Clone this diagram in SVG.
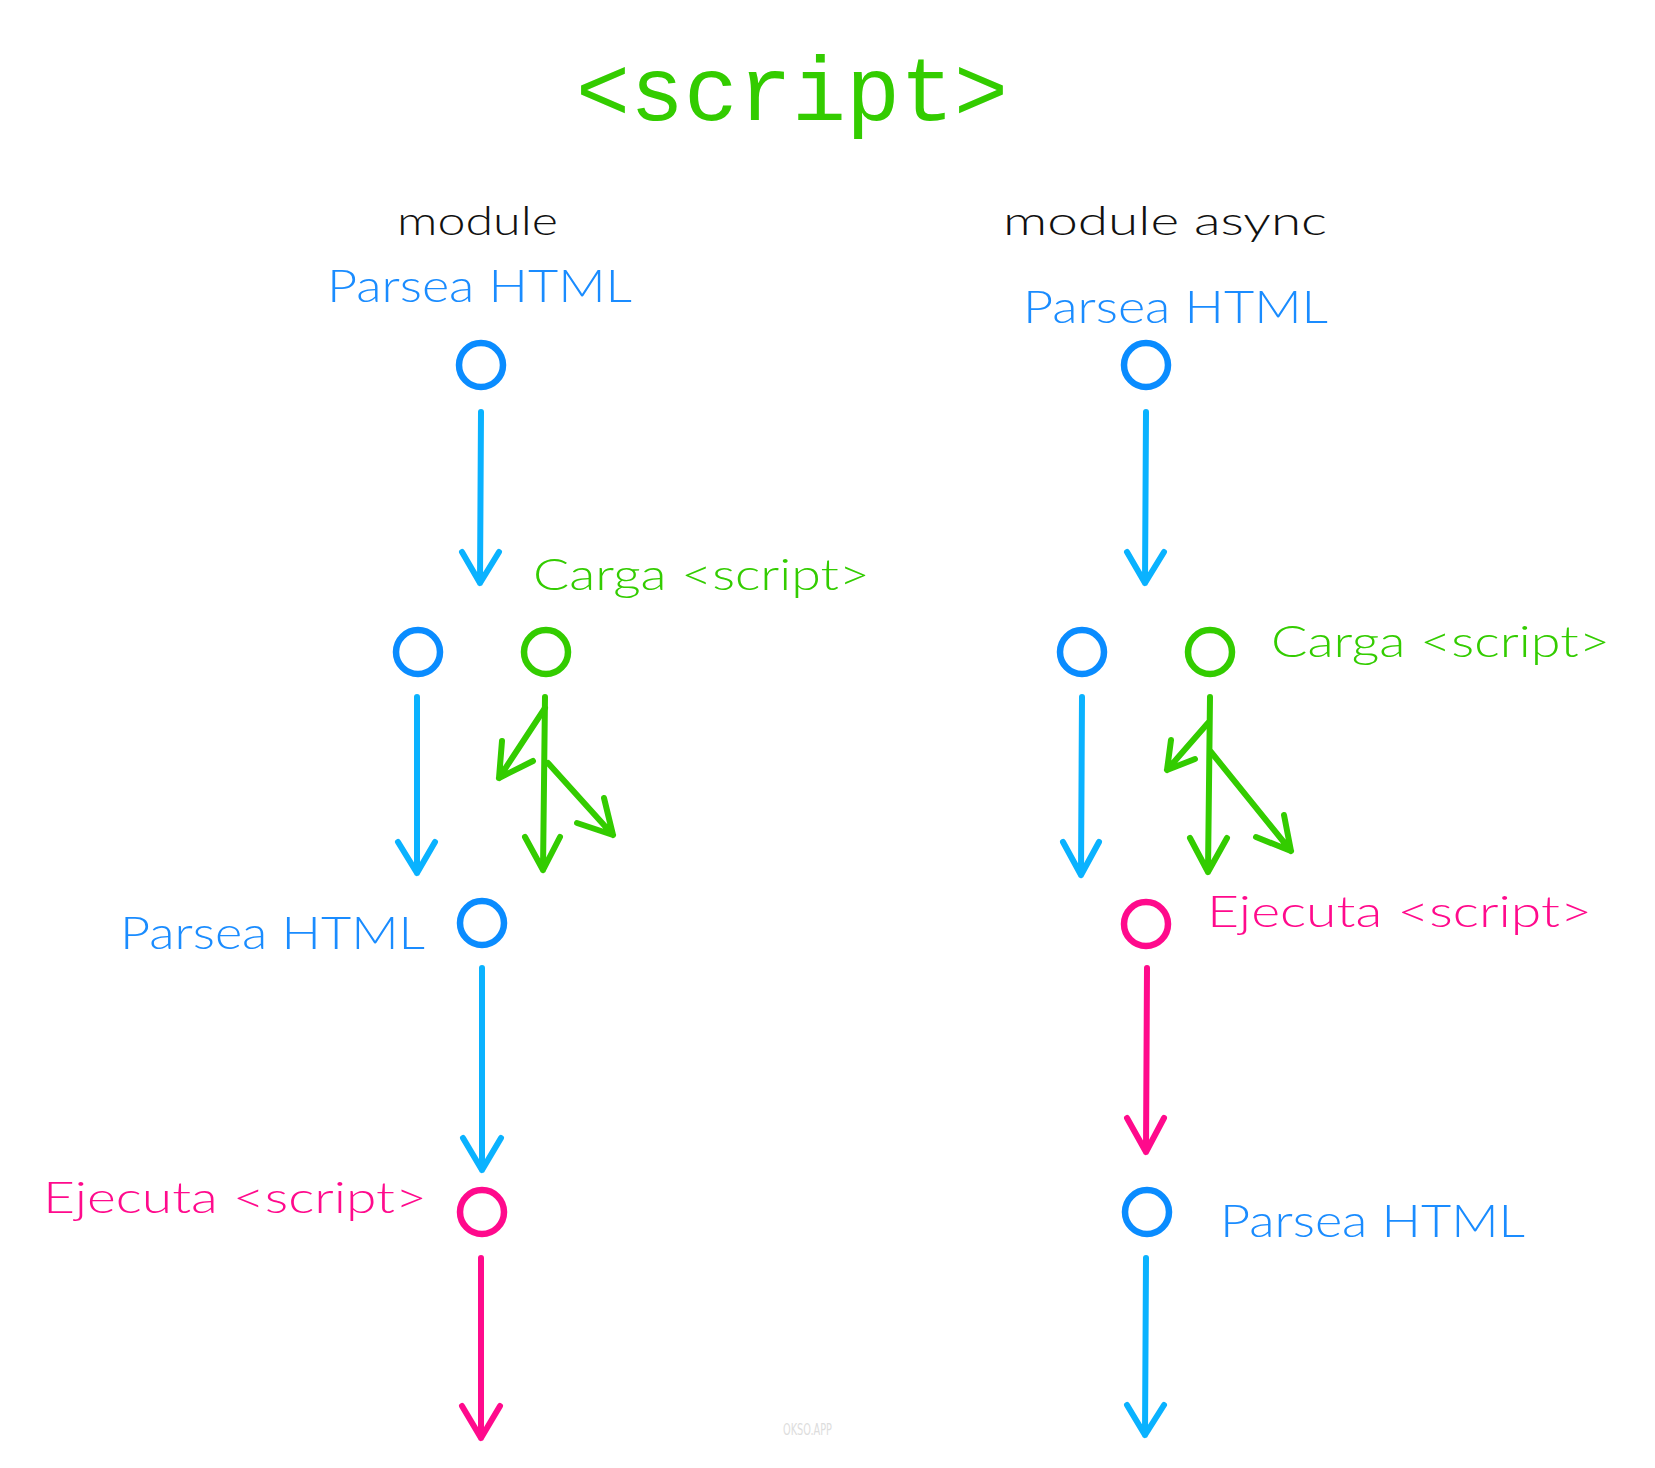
<svg xmlns="http://www.w3.org/2000/svg" width="1655" height="1468" viewBox="0 0 1655 1468">
<style>
.hand{font-family:Lato,"Open Sans","Liberation Sans",sans-serif;font-weight:300;}
.blueT{fill:#1a8cff;font-size:46px;}
.greenT{fill:#33cc00;font-size:43px;}
.pinkT{fill:#ff0a8c;font-size:43px;}
.blackT{fill:#111;font-size:40px;}
.c{fill:none;stroke-width:6.5;}
.cb{stroke:#0a8cff;}
.cg{stroke:#33cc00;}
.cp{stroke:#ff0a8c;}
.a{fill:none;stroke-width:6;stroke-linecap:round;stroke-linejoin:round;}
.ab{stroke:#0ab2ff;}
.ag{stroke:#33cc00;}
.ap{stroke:#ff0a8c;}
</style>
<rect width="1655" height="1468" fill="#ffffff"/>
<g id="title">
<text x="576" y="120" font-family="'Liberation Mono','DejaVu Sans Mono',monospace" font-size="90" fill="#33cc00">&lt;script&gt;</text>
</g>
<g id="header-module"><text class="hand blackT" x="397" y="235" textLength="161" lengthAdjust="spacingAndGlyphs">module</text></g>
<g id="header-module-async"><text class="hand blackT" x="1003" y="235" textLength="324" lengthAdjust="spacingAndGlyphs">module async</text></g>

<g id="L-parse1">
<text class="hand blueT" x="327" y="302" textLength="305" lengthAdjust="spacingAndGlyphs">Parsea HTML</text>
<circle class="c cb" cx="481" cy="365" r="22"/>
</g>
<g id="L-parse2"><circle class="c cb" cx="418" cy="652" r="22"/></g>
<g id="L-load">
<text class="hand greenT" x="533" y="590" textLength="337" lengthAdjust="spacingAndGlyphs">Carga &lt;script&gt;</text>
<circle class="c cg" cx="546" cy="652" r="22"/>
</g>
<g id="L-parse3">
<text class="hand blueT" x="120" y="949" textLength="305" lengthAdjust="spacingAndGlyphs">Parsea HTML</text>
<circle class="c cb" cx="482" cy="923" r="22"/>
</g>
<g id="L-exec">
<text class="hand pinkT" x="43" y="1213" textLength="384" lengthAdjust="spacingAndGlyphs">Ejecuta &lt;script&gt;</text>
<circle class="c cp" cx="482" cy="1212" r="22"/>
</g>

<g id="R-parse1">
<text class="hand blueT" x="1023" y="323" textLength="305" lengthAdjust="spacingAndGlyphs">Parsea HTML</text>
<circle class="c cb" cx="1146" cy="365" r="22"/>
</g>
<g id="R-parse2"><circle class="c cb" cx="1082" cy="652" r="22"/></g>
<g id="R-load">
<text class="hand greenT" x="1271" y="657" textLength="339" lengthAdjust="spacingAndGlyphs">Carga &lt;script&gt;</text>
<circle class="c cg" cx="1210" cy="652" r="22"/>
</g>
<g id="R-exec">
<text class="hand pinkT" x="1207" y="927" textLength="385" lengthAdjust="spacingAndGlyphs">Ejecuta &lt;script&gt;</text>
<circle class="c cp" cx="1146" cy="924" r="22"/>
</g>
<g id="R-parse3">
<text class="hand blueT" x="1220" y="1237" textLength="305" lengthAdjust="spacingAndGlyphs">Parsea HTML</text>
<circle class="c cb" cx="1147" cy="1212" r="22"/>
</g>

<g id="connectors">
<!-- left column -->
<path class="a ab" d="M481 412 L480 583 M462 552 L480 583 L499 552"/>
<path class="a ab" d="M417 697 L417 873 M398 842 L417 873 L435 842"/>
<path class="a ag" d="M545 697 L543 870 M525 837 L543 870 L560 837"/>
<path class="a ag" d="M545 708 L499 778 M502 741 L499 778 L533 761"/>
<path class="a ag" d="M548 763 L613 835 M604 798 L613 835 L577 823"/>
<path class="a ab" d="M482 968 L482 1170 M463 1138 L482 1170 L501 1138"/>
<path class="a ap" d="M481 1258 L481 1438 M462 1406 L481 1438 L500 1406"/>
<!-- right column -->
<path class="a ab" d="M1146 412 L1145 583 M1127 552 L1145 583 L1164 552"/>
<path class="a ab" d="M1082 697 L1081 875 M1063 842 L1081 875 L1099 842"/>
<path class="a ag" d="M1210 697 L1208 872 M1190 838 L1208 872 L1227 838"/>
<path class="a ag" d="M1208 723 L1167 770 M1171 740 L1167 770 L1195 759"/>
<path class="a ag" d="M1211 752 L1291 851 M1284 815 L1291 851 L1256 837"/>
<path class="a ap" d="M1147 968 L1146 1152 M1127 1118 L1146 1152 L1164 1118"/>
<path class="a ab" d="M1146 1258 L1145 1435 M1127 1405 L1145 1435 L1164 1405"/>
</g>
<g id="watermark"><text x="783" y="1435" font-family="'Liberation Sans Narrow','DejaVu Sans Condensed',sans-serif" font-size="15" fill="#dddddd" textLength="49" lengthAdjust="spacingAndGlyphs">OKSO.APP</text></g>
</svg>
